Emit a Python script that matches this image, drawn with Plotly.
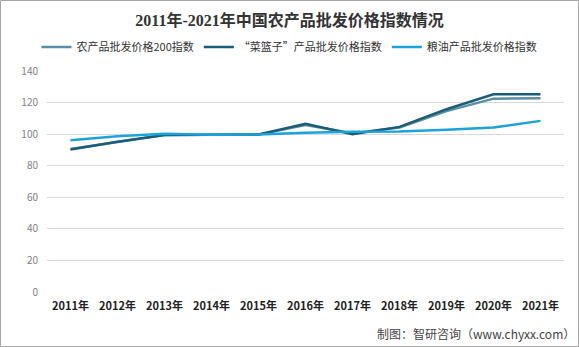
import plotly.graph_objects as go

years = ["2011年", "2012年", "2013年", "2014年", "2015年", "2016年", "2017年", "2018年", "2019年", "2020年", "2021年"]
index200 = [90.6, 95.0, 99.5, 99.6, 99.7, 105.8, 100.6, 104.2, 114.6, 122.5, 122.8]
basket = [90.3, 95.2, 99.5, 99.5, 99.8, 106.6, 100.0, 104.6, 115.8, 125.2, 125.2]
grain = [96.1, 98.6, 100.3, 99.6, 99.8, 100.9, 101.5, 101.6, 102.8, 104.2, 108.4]

names = ["农产品批发价格200指数", "“菜篮子”产品批发价格指数", "粮油产品批发价格指数"]
colors = ["#5a8fa8", "#1b5c78", "#1aa3dc"]

W, H = 579, 347
ml, mr, mt, mb = 47, 15, 71, 55
pw, ph = W - ml - mr, H - mt - mb

fig = go.Figure()
for name, vals, c in zip(names, [index200, basket, grain], colors):
    fig.add_trace(go.Scatter(x=years, y=vals, name=name, mode="lines",
                             line=dict(color=c, width=2.5)))

font_cjk = "Noto Sans CJK SC, Noto Sans, sans-serif"
fig.update_layout(
    width=W, height=H,
    margin=dict(l=ml, r=mr, t=mt, b=mb, autoexpand=False),
    paper_bgcolor="white", plot_bgcolor="white",
    font=dict(family=font_cjk, size=11, color="#333333"),
    title=dict(text="<b>2011年-2021年中国农产品批发价格指数情况</b>",
               x=0.5, xanchor="center", y=1 - 20 / H, yanchor="middle",
               font=dict(family="Liberation Serif, Noto Sans CJK SC, serif", size=16, color="#333333")),
    legend=dict(orientation="h", xref="container", yref="container",
                x=0.5, xanchor="center", y=1 - 47 / H, yanchor="middle",
                font=dict(size=11, color="#333333"), itemwidth=30, tracegroupgap=0,
                bgcolor="rgba(0,0,0,0)"),
    showlegend=True,
    xaxis=dict(type="category", range=[-0.5, len(years) - 0.5], showgrid=False, zeroline=False, showline=False,
               ticks="", tickfont=dict(size=11, color="#222222", family=font_cjk, weight="bold"),
               ticklabelstandoff=6),
    yaxis=dict(range=[0, 140], dtick=20, showgrid=True, gridcolor="#d9d9d9", gridwidth=1,
               zeroline=False, showline=False, ticks="",
               tickfont=dict(size=10, color="#7f7f7f"), ticklabelstandoff=8),
    annotations=[dict(text="制图：智研咨询（www.chyxx.com）", xref="paper", yref="paper",
                      x=1 + (mr - 2) / pw, xanchor="right", y=-(333 - (H - mb)) / ph, yanchor="middle",
                      showarrow=False, font=dict(size=12, color="#444444"))],
    shapes=[dict(type="rect", xref="paper", yref="paper",
                 x0=-(ml - 0.5) / pw, x1=1 + (mr - 0.5) / pw,
                 y0=-(mb - 0.5) / ph, y1=1 + (mt - 0.5) / ph,
                 line=dict(color="#a6a6a6", width=1), layer="below")],
)
fig.write_html("out.html")
